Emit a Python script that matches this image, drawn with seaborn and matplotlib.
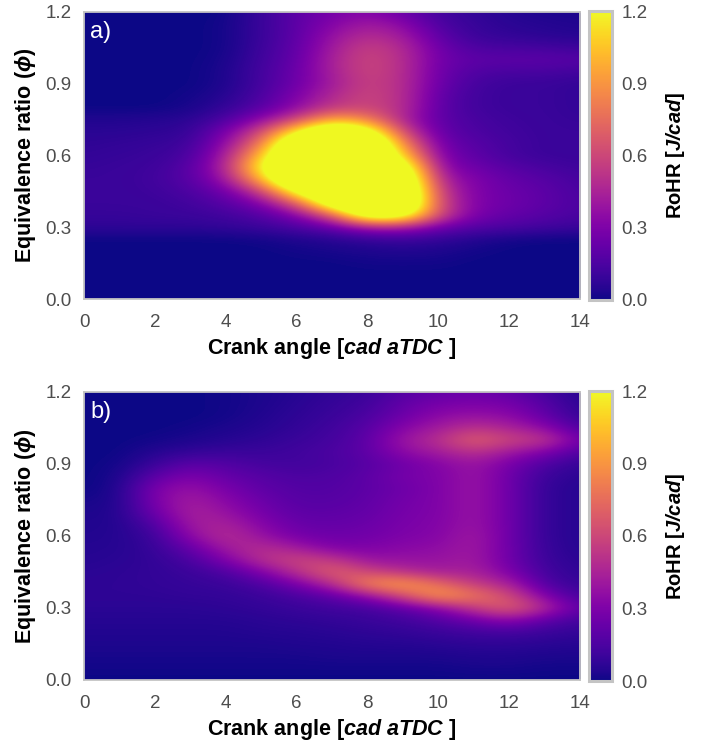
import numpy as np
import pandas as pd
import matplotlib
matplotlib.use("Agg")
import matplotlib.pyplot as plt
import seaborn as sns

crank_angle = list(range(0, 15))
phi = [1.20,1.15,1.10,1.05,1.00,0.95,0.90,0.85,0.80,0.75,0.70,0.65,0.60,0.55,0.50,0.45,0.40,0.35,0.30,0.25,0.20,0.15,0.10,0.05,0.00]

rohr_a = [
 [0,0,0,0,0,.10,.20,.28,.32,.24,.12,.08,.05,.03,.03],
 [0,0,0,0,.01,.10,.20,.32,.42,.34,.15,.09,.06,.05,.04],
 [0,0,0,0,.01,.10,.20,.38,.50,.42,.20,.10,.08,.06,.05],
 [0,0,0,0,.01,.11,.21,.42,.58,.48,.25,.15,.14,.13,.11],
 [0,0,0,0,.02,.12,.22,.45,.60,.50,.26,.20,.20,.20,.18],
 [0,0,0,0,.03,.13,.24,.44,.60,.50,.25,.16,.14,.14,.12],
 [0,0,0,0,.03,.13,.25,.42,.58,.50,.24,.13,.10,.10,.08],
 [0,0,0,.01,.05,.15,.30,.48,.60,.50,.21,.12,.10,.10,.08],
 [0,0,0,.02,.08,.18,.35,.55,.60,.50,.20,.12,.10,.10,.08],
 [.04,.04,.05,.06,.15,.35,.60,1.00,.85,.45,.20,.14,.11,.10,.09],
 [.06,.06,.07,.08,.28,.60,1.20,1.70,1.40,.60,.22,.15,.12,.10,.10],
 [.07,.08,.09,.11,.35,.80,1.70,1.80,1.80,.85,.26,.18,.13,.10,.10],
 [.08,.09,.10,.14,.42,1.05,1.80,1.80,1.80,1.10,.30,.20,.13,.10,.10],
 [.09,.10,.11,.18,.45,1.25,1.80,1.80,1.80,1.50,.35,.25,.18,.14,.11],
 [.10,.10,.12,.18,.38,1.00,1.80,1.80,1.80,1.70,.45,.30,.22,.18,.13],
 [.10,.10,.11,.15,.25,.55,1.30,1.80,1.80,1.80,.55,.30,.24,.20,.14],
 [.10,.10,.10,.12,.18,.30,.65,1.50,1.90,1.80,.60,.30,.25,.20,.15],
 [.09,.09,.10,.10,.12,.17,.30,.65,1.50,1.40,.60,.28,.22,.18,.14],
 [.07,.07,.07,.07,.08,.10,.15,.22,.40,.42,.25,.17,.15,.12,.10],
 [0,0,0,0,0,.01,.03,.05,.08,.10,.08,.04,.01,0,0],
 [0,0,0,0,0,0,.01,.02,.03,.04,.03,.01,0,0,0],
 [0,0,0,0,0,0,0,0,.01,.01,.01,0,0,0,0],
 [0,0,0,0,0,0,0,0,0,0,0,0,0,0,0],
 [0,0,0,0,0,0,0,0,0,0,0,0,0,0,0],
 [0,0,0,0,0,0,0,0,0,0,0,0,0,0,0],
]

rohr_b = [
 [0,0,0,0,.01,.03,.05,.08,.10,.18,.22,.24,.22,.13,.05],
 [0,0,0,0,.01,.03,.06,.09,.12,.22,.28,.30,.28,.18,.06],
 [0,0,0,0,.01,.04,.07,.10,.15,.25,.35,.38,.35,.22,.08],
 [0,0,0,.01,.03,.05,.08,.12,.18,.33,.42,.52,.45,.35,.14],
 [0,0,.01,.03,.05,.07,.10,.13,.20,.40,.50,.72,.58,.55,.25],
 [0,0,.05,.08,.10,.10,.12,.15,.20,.35,.42,.52,.40,.30,.15],
 [0,.01,.10,.20,.17,.13,.12,.14,.18,.25,.32,.40,.28,.15,.08],
 [0,.02,.20,.30,.22,.18,.15,.16,.20,.28,.30,.40,.25,.10,.06],
 [0,.03,.30,.38,.28,.20,.17,.17,.20,.25,.30,.40,.25,.08,.05],
 [.02,.03,.30,.43,.33,.24,.18,.18,.21,.27,.30,.40,.25,.08,.05],
 [.03,.04,.25,.45,.38,.27,.20,.20,.22,.28,.30,.40,.25,.08,.05],
 [.04,.04,.16,.42,.45,.32,.23,.22,.24,.29,.31,.40,.25,.08,.05],
 [.04,.05,.10,.35,.50,.38,.27,.25,.26,.30,.32,.42,.25,.08,.05],
 [.05,.05,.09,.22,.42,.50,.42,.30,.30,.34,.35,.42,.25,.09,.05],
 [.05,.06,.08,.14,.30,.50,.60,.55,.38,.38,.38,.42,.25,.10,.06],
 [.06,.07,.08,.10,.15,.30,.50,.72,.60,.50,.42,.45,.30,.12,.07],
 [.07,.07,.08,.09,.10,.15,.28,.48,.88,.95,.75,.55,.45,.15,.09],
 [.07,.07,.07,.08,.08,.10,.14,.20,.35,.62,.95,.80,.62,.30,.12],
 [.06,.06,.06,.06,.07,.08,.10,.12,.13,.20,.32,.55,.72,.48,.20],
 [.05,.05,.05,.05,.05,.06,.07,.08,.10,.12,.17,.25,.35,.20,.12],
 [.04,.04,.04,.04,.04,.05,.05,.06,.07,.08,.10,.12,.13,.10,.08],
 [.03,.03,.03,.03,.03,.03,.04,.04,.05,.05,.06,.07,.07,.06,.05],
 [.02,.02,.02,.02,.02,.02,.02,.03,.03,.03,.03,.04,.04,.03,.03],
 [.01,.01,.01,.01,.01,.01,.01,.01,.01,.01,.01,.02,.02,.01,.01],
 [0,0,0,0,0,0,0,0,0,0,0,0,0,0,0],
]

tick_x = [0, 2, 4, 6, 8, 10, 12, 14]
tick_y = ["1.2", "0.9", "0.6", "0.3", "0.0"]
tick_cbar = [0.0, 0.3, 0.6, 0.9, 1.2]
panel_labels = ["a)", "b)"]

sns.set_theme(style="white")
plt.rcParams.update({
    "font.family": ["Liberation Sans", "DejaVu Sans"],
    "mathtext.fontset": "custom",
    "mathtext.rm": "Liberation Sans",
    "mathtext.it": "Liberation Sans:italic",
    "mathtext.bf": "Liberation Sans:bold",
    "mathtext.bfit": "Liberation Sans:italic:bold",
})

W, H = 703, 745
BORDER = "#c4c4c4"
TICK = "#4d4d4d"
fig = plt.figure(figsize=(W / 100, H / 100), dpi=100)


def box(x0, y0, x1, y1):
    return [x0 / W, 1 - y1 / H, (x1 - x0) / W, (y1 - y0) / H]


def panel(values, label, y0, y1):
    ax = fig.add_axes(box(84, y0, 580, y1))
    cax = fig.add_axes(box(589, y0 - 1, 612, y1 + 1))
    df = pd.DataFrame(values, index=phi, columns=crank_angle)
    sns.heatmap(df, ax=ax, cbar_ax=cax, cmap="plasma", vmin=0, vmax=1.2,
                xticklabels=False, yticklabels=False)
    nrow, ncol = df.shape
    ax.imshow(df.to_numpy(), cmap="plasma", vmin=0, vmax=1.2, aspect="auto",
              interpolation="bicubic", extent=(0, ncol, nrow, 0), origin="upper",
              zorder=2)
    ax.set_xlim(0.5, ncol - 0.5)
    ax.set_ylim(nrow - 0.5, 0.5)
    ax.set_xticks([v + 0.5 for v in tick_x])
    ax.set_xticklabels([str(v) for v in tick_x])
    ax.set_yticks([0.5, 6.5, 12.5, 18.5, 24.5])
    ax.set_yticklabels(tick_y)
    ax.tick_params(axis="x", length=0, labelsize=13.5, labelcolor=TICK, pad=11,
                   bottom=False, labelbottom=True)
    ax.tick_params(axis="y", length=0, labelsize=13.5, labelcolor=TICK, pad=9,
                   left=False, labelleft=True)
    for s in ax.spines.values():
        s.set_visible(True)
        s.set_color(BORDER)
        s.set_linewidth(1.3)
        s.set_zorder(5)
    ax.set_xlabel(r"Crank angle [$\mathbfit{cad\ aTDC}$ ]", fontsize=15.5,
                  fontweight="bold", color="black", labelpad=3.5)
    ax.set_ylabel(r"Equivalence ratio ($\mathbfit{\phi}$)", fontsize=15.5,
                  fontweight="bold", color="black", labelpad=5.5)
    ax.text(0.013, 0.93, label, transform=ax.transAxes, color="white",
            fontsize=17, ha="left", va="center", zorder=6)
    cbar = ax.collections[0].colorbar
    cbar.set_ticks(tick_cbar)
    cbar.set_ticklabels([f"{v:.1f}" for v in tick_cbar])
    cax.tick_params(length=0, labelsize=13.5, labelcolor=TICK, pad=7, right=False)
    cbar.outline.set_visible(True)
    cbar.outline.set_edgecolor(BORDER)
    cbar.outline.set_linewidth(2.2)
    cbar.set_label(r"RoHR [$\mathbfit{J/cad}$]", fontsize=14.5, fontweight="bold",
                   color="black", labelpad=11.5)


panel(rohr_a, panel_labels[0], 12, 299)
panel(rohr_b, panel_labels[1], 392, 680)
fig.savefig("out.png", dpi=100)
